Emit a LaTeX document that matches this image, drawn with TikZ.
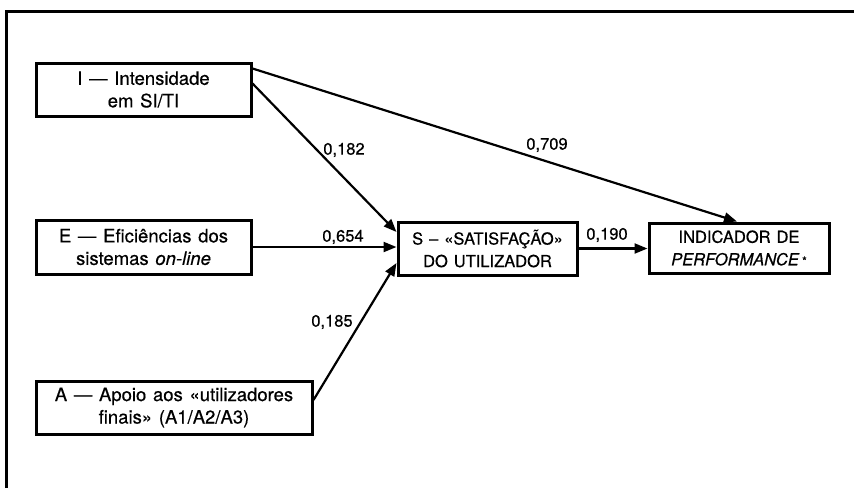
\documentclass[tikz,border=0pt]{standalone}
\usepackage{fontspec}
\setmainfont[WordSpace=1.3,FakeBold=0.5]{TeX Gyre Heros}
\usetikzlibrary{arrows.meta}
\begin{document}
\begin{tikzpicture}[x=1pt,y=-1pt,
  box/.style={draw,line width=3pt,align=center,inner sep=0pt,
    font=\fontsize{18.5}{22.5}\selectfont},
  capbox/.style={box,font=\fontsize{16.5}{22.5}\selectfont},
  conn/.style={line width=2.2pt,-{Triangle[length=13pt,width=10pt]}},
  lbl/.style={font=\fontsize{16.5}{19}\selectfont,inner sep=0pt}]
\useasboundingbox (0,0) rectangle (854,488);
% frame
\draw[line width=3pt] (6,488) -- (6,11) -- (854,11);
% boxes
\node[box,minimum width=215pt,minimum height=53pt] (I) at (143.5,89.5)
  {I — Intensidade\\em SI/TI};
\node[box,minimum width=215pt,minimum height=54pt] (E) at (143.5,247)
  {E — Eficiências dos\\sistemas \textit{on-line}};
\node[box,minimum width=276pt,minimum height=53pt] (A) at (174,407.5)
  {A — Apoio aos «utilizadores\\finais» (A1/A2/A3)};
\node[capbox,minimum width=179pt,minimum height=53pt] (S) at (487.5,248.5)
  {S – «SATISFAÇÃO»\\DO UTILIZADOR};
\node[capbox,minimum width=180pt,minimum height=50pt] (P) at (739,248)
  {INDICADOR DE\\\textit{PERFORMANCE}\,{\fontsize{12}{12}\selectfont *}};
% connectors
\draw[conn] ([yshift=-7pt]I.north east) -- ([xshift=-2pt]P.north);
\draw[conn] ([yshift=-22pt]I.north east) -- ([yshift=16.5pt]S.west);
\draw[conn] (E.east) -- (E.east -| S.west);
\draw[conn] ([yshift=7.5pt]A.east) -- ([yshift=-14.5pt]S.west);
\draw[conn] (S.east) -- (S.east -| P.west);
% labels
\node[lbl] (l1) at (344,150) {0,182};
\node[lbl] (l2) at (343,237) {0,654};
\node[lbl] (l3) at (332,322) {0,185};
\node[lbl] (l4) at (547,145) {0,709};
\node[lbl] (l5) at (607,235) {0,190};
\end{tikzpicture}
\end{document}
